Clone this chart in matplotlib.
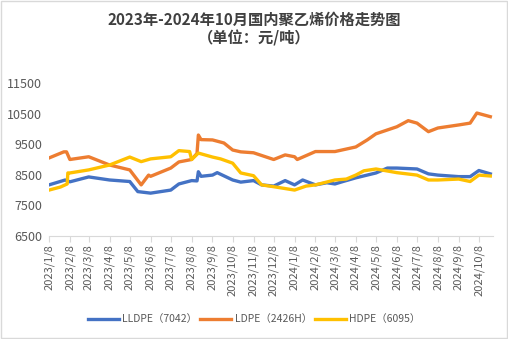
import matplotlib
matplotlib.use("Agg")
import matplotlib.pyplot as plt
import pandas as pd

plt.rcParams["font.family"] = ["Noto Sans CJK SC", "DejaVu Sans"]

# LLDPE (7042) price points, yuan/ton
lldpe_dates = [
    "2023-01-08", "2023-02-01", "2023-02-08", "2023-03-08", "2023-04-08",
    "2023-05-08", "2023-05-20", "2023-06-08", "2023-07-08", "2023-07-20",
    "2023-08-08", "2023-08-16", "2023-08-18", "2023-08-22", "2023-09-08",
    "2023-09-15", "2023-10-08", "2023-10-20", "2023-11-08", "2023-11-20",
    "2023-12-08", "2023-12-25", "2024-01-08", "2024-01-20", "2024-02-08",
    "2024-02-25", "2024-03-08", "2024-03-20", "2024-04-08", "2024-05-08",
    "2024-05-25", "2024-06-08", "2024-07-08", "2024-07-25", "2024-08-08",
    "2024-09-08", "2024-09-25", "2024-10-08", "2024-10-25",
]
lldpe = [
    8170, 8330, 8270, 8430, 8330,
    8280, 7950, 7900, 8000, 8200,
    8310, 8300, 8600, 8450, 8490,
    8570, 8330, 8260, 8310, 8170,
    8130, 8310, 8170, 8330, 8170,
    8240, 8200, 8280, 8400, 8560,
    8720, 8720, 8690, 8530, 8490,
    8440, 8440, 8640, 8530,
]

# LDPE (2426H)
ldpe_dates = [
    "2023-01-08", "2023-01-30", "2023-02-03", "2023-02-08", "2023-03-08",
    "2023-04-08", "2023-05-08", "2023-05-25", "2023-06-05", "2023-06-08",
    "2023-07-08", "2023-07-20", "2023-08-08", "2023-08-16", "2023-08-18",
    "2023-08-22", "2023-09-08", "2023-09-25", "2023-10-08", "2023-10-20",
    "2023-11-08", "2023-12-08", "2023-12-25", "2024-01-08", "2024-01-12",
    "2024-02-08", "2024-03-08", "2024-04-08", "2024-04-25", "2024-05-08",
    "2024-06-08", "2024-06-25", "2024-07-08", "2024-07-25", "2024-08-08",
    "2024-09-08", "2024-09-25", "2024-10-05", "2024-10-25",
]
ldpe = [
    9050, 9250, 9250, 9000, 9090,
    8820, 8660, 8170, 8490, 8450,
    8720, 8920, 9000, 9200, 9800,
    9650, 9640, 9540, 9310, 9250,
    9220, 9000, 9150, 9090, 9000,
    9260, 9260, 9410, 9640, 9840,
    10070, 10270, 10190, 9910, 10030,
    10130, 10190, 10520, 10400,
]

# HDPE (6095)
hdpe_dates = [
    "2023-01-08", "2023-01-25", "2023-02-04", "2023-02-05", "2023-02-08",
    "2023-03-08", "2023-04-08", "2023-05-08", "2023-05-25", "2023-06-08",
    "2023-07-08", "2023-07-20", "2023-08-05", "2023-08-08", "2023-08-18",
    "2023-09-08", "2023-09-20", "2023-10-08", "2023-10-20", "2023-11-08",
    "2023-11-20", "2023-12-08", "2024-01-08", "2024-01-25", "2024-02-08",
    "2024-03-08", "2024-03-25", "2024-04-08", "2024-04-20", "2024-05-08",
    "2024-06-08", "2024-07-08", "2024-07-25", "2024-08-08", "2024-09-08",
    "2024-09-25", "2024-10-08", "2024-10-25",
]
hdpe = [
    8000, 8100, 8200, 8560, 8560,
    8660, 8820, 9080, 8930, 9020,
    9090, 9290, 9260, 9000, 9210,
    9080, 9020, 8880, 8560, 8470,
    8170, 8110, 8000, 8130, 8170,
    8330, 8360, 8490, 8630, 8690,
    8570, 8490, 8330, 8330, 8360,
    8280, 8490, 8460,
]

series = [
    ("LLDPE（7042）", lldpe_dates, lldpe, "#4472c4"),
    ("LDPE（2426H）", ldpe_dates, ldpe, "#ed7d31"),
    ("HDPE（6095）", hdpe_dates, hdpe, "#ffc000"),
]

fig = plt.figure(figsize=(5.08, 3.39), dpi=100)
ax = fig.add_axes([0.0965, 0.304, 0.874, 0.451])

for label, dates, vals, color in series:
    ax.plot(pd.to_datetime(dates), vals, color=color, linewidth=2.4,
            label=label, solid_joinstyle="round")

ax.set_ylim(6500, 11500)
ax.set_yticks(range(6500, 11501, 1000))
ax.set_xlim(pd.Timestamp("2023-01-08"), pd.Timestamp("2024-10-29"))

# monthly ticks on the 8th
ticks = pd.date_range("2023-01-01", "2024-10-01", freq="MS") + pd.Timedelta(days=7)
ax.set_xticks(ticks)
ax.set_xticklabels([f"{d.year}/{d.month}/{d.day}" for d in ticks],
                   rotation=90, fontsize=8, color="#595959")
ax.tick_params(axis="y", length=0, labelsize=9, colors="#595959", pad=5)
ax.tick_params(axis="x", length=4, color="#d9d9d9", pad=2)

for side in ("top", "right", "left"):
    ax.spines[side].set_visible(False)
ax.spines["bottom"].set_color("#d9d9d9")

fig.text(0.5, 0.943, "2023年-2024年10月国内聚乙烯价格走势图", ha="center",
         va="center", fontsize=11, fontweight="bold", color="#404040")
fig.text(0.5, 0.887, "（单位：元/吨）", ha="center", va="center",
         fontsize=11, fontweight="bold", color="#404040")

fig.legend(loc="center", bbox_to_anchor=(0.5, 0.058), ncol=3, frameon=False,
           fontsize=7.5, handlelength=3.0, handletextpad=0.3,
           columnspacing=0.3, labelcolor="#595959")

fig.patches.append(plt.Rectangle((0.002, 0.003), 0.996, 0.994,
                                 transform=fig.transFigure, fill=False,
                                 edgecolor="#d9d9d9", linewidth=1))

fig.savefig("out.png", dpi=100)
